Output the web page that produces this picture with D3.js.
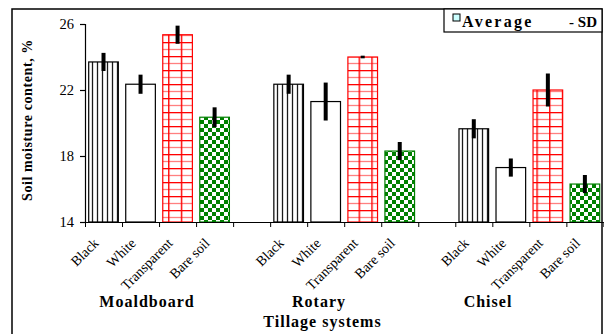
<!DOCTYPE html>
<html>
<head>
<meta charset="utf-8">
<script src="https://cdn.jsdelivr.net/npm/d3@7"></script>
<style>
  html, body { margin: 0; padding: 0; background: #fff; }
  svg { display: block; }
</style>
</head>
<body>
<svg id="chart" width="604" height="334"></svg>
<script>
// Soil moisture content (%) under plastic mulch colours, by tillage system
const systems = ["Moaldboard", "Rotary", "Chisel"];
const covers = ["Black", "White", "Transparent", "Bare soil"];

const moaldboardMean = [23.7, 22.35, 25.35, 20.35];
const rotaryMean     = [22.35, 21.3, 24.0, 18.3];
const chiselMean     = [19.65, 17.3, 22.0, 16.3];

const moaldboardSD = [0.55, 0.58, 0.55, 0.6];
const rotarySD     = [0.58, 1.15, 0.08, 0.55];
const chiselSD     = [0.58, 0.55, 1.0, 0.55];

const yTicks = [14, 18, 22, 26];

const FONT = "Liberation Serif";
const means = [moaldboardMean, rotaryMean, chiselMean];
const sds = [moaldboardSD, rotarySD, chiselSD];

// One slot per bar, with an empty slot between tillage systems
const slots = [];
systems.forEach((s, si) => {
  covers.forEach((c, ci) => slots.push({ system: s, cover: c, ci, value: means[si][ci], sd: sds[si][ci] }));
  if (si < systems.length - 1) slots.push(null);
});

const svg = d3.select("#chart");
const plot = { left: 85, right: 603.4, top: 24, bottom: 222 };

const y = d3.scaleLinear().domain([14, 26]).range([plot.bottom, plot.top]);
const xi = d3.scaleLinear().domain([0, slots.length]).range([plot.left, plot.right]);
const x = d3.scaleBand().domain(d3.range(slots.length)).range([plot.left, plot.right]).paddingInner(0.2).paddingOuter(0.1);

// Fill patterns
const defs = svg.append("defs");
const pv = defs.append("pattern").attr("id", "pBlack").attr("patternUnits", "userSpaceOnUse")
  .attr("width", 5).attr("height", 10);
pv.append("rect").attr("width", 5).attr("height", 10).attr("fill", "#fff");
pv.append("line").attr("x1", 2.5).attr("x2", 2.5).attr("y1", 0).attr("y2", 10)
  .attr("stroke", "#1a1a1a").attr("stroke-width", 1.3);

const pg = defs.append("pattern").attr("id", "pTransparent").attr("patternUnits", "userSpaceOnUse")
  .attr("width", 12.7).attr("height", 14).attr("x", 3);
pg.append("rect").attr("width", 12.7).attr("height", 14).attr("fill", "#fff");
pg.append("line").attr("x1", 0).attr("x2", 12.7).attr("y1", 7.5).attr("y2", 7.5).attr("stroke", "#ff8080").attr("stroke-width", 1.3);
pg.append("line").attr("x1", 0).attr("x2", 12.7).attr("y1", 0.6).attr("y2", 0.6).attr("stroke", "#ff0000").attr("stroke-width", 1.4);
pg.append("line").attr("x1", 0.7).attr("x2", 0.7).attr("y1", 0).attr("y2", 14).attr("stroke", "#ff0000").attr("stroke-width", 1.4);

const pc = defs.append("pattern").attr("id", "pBare").attr("patternUnits", "userSpaceOnUse")
  .attr("width", 8).attr("height", 8);
pc.append("rect").attr("width", 8).attr("height", 8).attr("fill", "#fff");
pc.append("rect").attr("x", 0).attr("y", 0).attr("width", 4).attr("height", 4).attr("fill", "#008000");
pc.append("rect").attr("x", 4).attr("y", 4).attr("width", 4).attr("height", 4).attr("fill", "#008000");

const fills = ["url(#pBlack)", "#fff", "url(#pTransparent)", "url(#pBare)"];
const strokes = ["#000", "#000", "#ff0000", "#008000"];

// Outer frame
svg.append("rect").attr("x", 12).attr("y", 9).attr("width", 590).attr("height", 340)
  .attr("fill", "none").attr("stroke", "#000").attr("stroke-width", 1.5);

// Bars
const data = slots.map((d, i) => d && Object.assign({ i }, d)).filter(Boolean);
svg.append("g").selectAll("rect").data(data).join("rect")
  .attr("x", d => x(d.i))
  .attr("y", d => y(d.value))
  .attr("width", x.bandwidth())
  .attr("height", d => y(14) - y(d.value))
  .attr("fill", d => fills[d.ci])
  .attr("stroke", d => strokes[d.ci])
  .attr("stroke-width", 1.2);

// Error bars (± SD)
svg.append("g").selectAll("line").data(data).join("line")
  .attr("x1", d => x(d.i) + x.bandwidth() / 2)
  .attr("x2", d => x(d.i) + x.bandwidth() / 2)
  .attr("y1", d => y(d.value + d.sd))
  .attr("y2", d => y(d.value - d.sd))
  .attr("stroke", "#000").attr("stroke-width", 4);

// Y axis
const yAxis = svg.append("g").attr("transform", `translate(${plot.left},0)`)
  .call(d3.axisLeft(y).tickValues(yTicks).tickSize(5).tickPadding(6).tickFormat(d3.format("d")));
yAxis.select(".domain").attr("stroke", "#000").attr("stroke-width", 1.2);
yAxis.selectAll(".tick line").attr("stroke", "#000").attr("stroke-width", 1.2);
yAxis.selectAll(".tick text").attr("fill", "#000")
  .style("font-family", FONT).style("font-size", "14.5px");

// X axis with ticks on slot boundaries
const xAxis = svg.append("g").attr("transform", `translate(0,${plot.bottom})`)
  .call(d3.axisBottom(xi).tickValues(d3.range(slots.length + 1)).tickSize(5).tickSizeOuter(0).tickFormat(""));
xAxis.select(".domain").attr("stroke", "#000").attr("stroke-width", 1.2);
xAxis.selectAll(".tick line").attr("stroke", "#000").attr("stroke-width", 1);

// Cover labels, slanted
svg.append("g").selectAll("text").data(data).join("text")
  .attr("transform", d => `translate(${x(d.i) + x.bandwidth() / 2 - 4},${plot.bottom + 22}) rotate(-45)`)
  .attr("text-anchor", "end")
  .style("font-family", FONT).style("font-size", "14px")
  .text(d => d.cover);

// Tillage system labels
const groupLabelX = [147, 319, 488];
svg.append("g").selectAll("text").data(systems).join("text")
  .attr("x", (d, i) => groupLabelX[i])
  .attr("y", 306.5)
  .attr("text-anchor", "middle")
  .style("font-family", FONT).style("font-size", "16px").style("font-weight", "bold")
  .style("letter-spacing", "1px")
  .text(d => d);

// Axis titles
svg.append("text").attr("x", 322.5).attr("y", 326.5).attr("text-anchor", "middle")
  .style("font-family", FONT).style("font-size", "16px").style("font-weight", "bold")
  .style("letter-spacing", "1px")
  .text("Tillage systems");

svg.append("text").attr("transform", "translate(32,120) rotate(-90)").attr("text-anchor", "middle")
  .style("font-family", FONT).style("font-size", "14px").style("font-weight", "bold")
  .style("letter-spacing", "0.6px")
  .text("Soil moisture content, %");

// Legend
const lg = svg.append("g");
lg.append("rect").attr("x", 444).attr("y", 9).attr("width", 158).attr("height", 23)
  .attr("fill", "#fff").attr("stroke", "#000").attr("stroke-width", 1.2);
lg.append("rect").attr("x", 453).attr("y", 14).attr("width", 7).attr("height", 7)
  .attr("fill", "#ccffff").attr("stroke", "#000").attr("stroke-width", 1);
lg.append("text").attr("x", 462).attr("y", 26.5)
  .style("font-family", FONT).style("font-size", "16px").style("font-weight", "bold")
  .style("letter-spacing", "2.3px").text("Average");
lg.append("text").attr("x", 597).attr("y", 26.5).attr("text-anchor", "end")
  .style("font-family", FONT).style("font-size", "15px").style("font-weight", "bold")
  .text("- SD");
</script>
</body>
</html>
